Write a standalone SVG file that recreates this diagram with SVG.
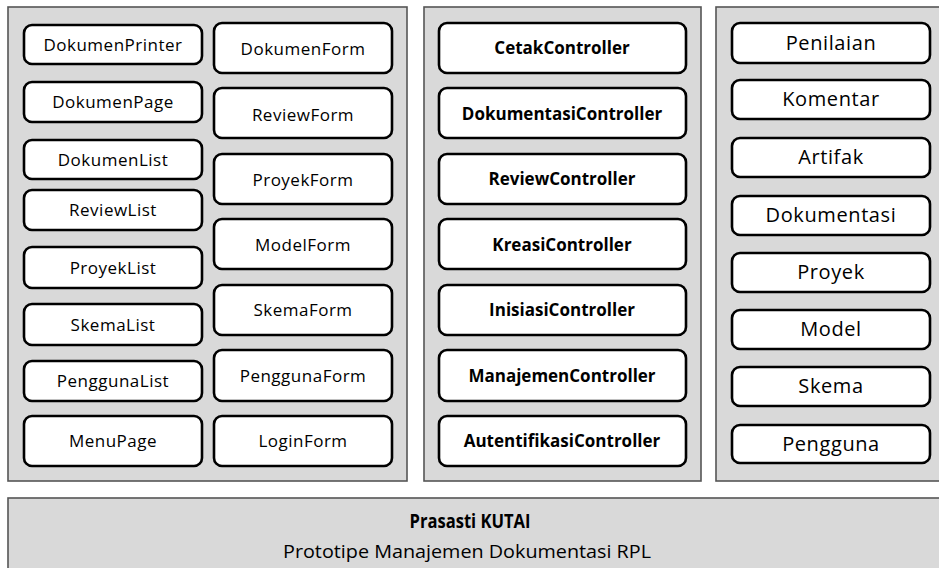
<svg xmlns="http://www.w3.org/2000/svg" width="939" height="568" viewBox="0 0 939 568">
<style>
.panel{fill:#d9d9d9;stroke:#555;stroke-width:1.6}
.box{fill:#fff;stroke:#000;stroke-width:2.6}
.t{font-family:"Open Sans","Liberation Sans",sans-serif;font-size:17px;fill:#000;text-anchor:middle;letter-spacing:0.5px}
.b{font-family:"Open Sans","Liberation Sans",sans-serif;font-size:17px;font-weight:bold;fill:#000;text-anchor:middle}
.m{font-family:"Open Sans","Liberation Sans",sans-serif;font-size:20px;fill:#000;text-anchor:middle;letter-spacing:0.6px}
</style>
<rect width="939" height="568" fill="#fff"/>
<g id="panel-view"><rect class="panel" x="8" y="7" width="399" height="474"/></g>
<g id="panel-controller"><rect class="panel" x="424" y="7" width="277" height="474"/></g>
<g id="panel-model"><rect class="panel" x="716" y="7" width="240" height="474"/></g>
<g id="panel-base"><rect class="panel" x="8" y="498" width="950" height="90"/>
<text x="470" y="528" font-family="Open Sans, Liberation Sans, sans-serif" font-size="19" font-weight="bold" fill="#000" text-anchor="middle" textLength="121" lengthAdjust="spacingAndGlyphs">Prasasti KUTAI</text>
<text x="467" y="558" font-family="Open Sans, Liberation Sans, sans-serif" font-size="19" fill="#000" text-anchor="middle" textLength="368" lengthAdjust="spacingAndGlyphs">Prototipe Manajemen Dokumentasi RPL</text>
</g>
<g id="DokumenPrinter"><rect class="box" x="24" y="25" width="178" height="39" rx="8"/><text class="t" x="113" y="51">DokumenPrinter</text></g>
<g id="DokumenPage"><rect class="box" x="24" y="82" width="178" height="40" rx="8"/><text class="t" x="113" y="108">DokumenPage</text></g>
<g id="DokumenList"><rect class="box" x="24" y="140" width="178" height="39" rx="8"/><text class="t" x="113" y="166">DokumenList</text></g>
<g id="ReviewList"><rect class="box" x="24" y="190" width="178" height="40" rx="8"/><text class="t" x="113" y="216">ReviewList</text></g>
<g id="ProyekList"><rect class="box" x="24" y="247" width="178" height="41" rx="8"/><text class="t" x="113" y="274">ProyekList</text></g>
<g id="SkemaList"><rect class="box" x="24" y="304" width="178" height="41" rx="8"/><text class="t" x="113" y="331">SkemaList</text></g>
<g id="PenggunaList"><rect class="box" x="24" y="361" width="178" height="40" rx="8"/><text class="t" x="113" y="387">PenggunaList</text></g>
<g id="MenuPage"><rect class="box" x="24" y="416" width="178" height="50" rx="8"/><text class="t" x="113" y="447">MenuPage</text></g>
<g id="DokumenForm"><rect class="box" x="214" y="23" width="178" height="50" rx="8"/><text class="t" x="303" y="55">DokumenForm</text></g>
<g id="ReviewForm"><rect class="box" x="214" y="88" width="178" height="50" rx="8"/><text class="t" x="303" y="121">ReviewForm</text></g>
<g id="ProyekForm"><rect class="box" x="214" y="154" width="178" height="50" rx="8"/><text class="t" x="303" y="186">ProyekForm</text></g>
<g id="ModelForm"><rect class="box" x="214" y="219" width="178" height="50" rx="8"/><text class="t" x="303" y="251">ModelForm</text></g>
<g id="SkemaForm"><rect class="box" x="214" y="285" width="178" height="50" rx="8"/><text class="t" x="303" y="316">SkemaForm</text></g>
<g id="PenggunaForm"><rect class="box" x="214" y="350" width="178" height="51" rx="8"/><text class="t" x="303" y="382">PenggunaForm</text></g>
<g id="LoginForm"><rect class="box" x="214" y="416" width="178" height="50" rx="8"/><text class="t" x="303" y="447">LoginForm</text></g>
<g id="CetakController"><rect class="box" x="439" y="23" width="247" height="50" rx="8"/><text class="b" x="562" y="54">CetakController</text></g>
<g id="DokumentasiController"><rect class="box" x="439" y="88" width="247" height="50" rx="8"/><text class="b" x="562" y="120">DokumentasiController</text></g>
<g id="ReviewController"><rect class="box" x="439" y="154" width="247" height="50" rx="8"/><text class="b" x="562" y="185">ReviewController</text></g>
<g id="KreasiController"><rect class="box" x="439" y="219" width="247" height="50" rx="8"/><text class="b" x="562" y="251">KreasiController</text></g>
<g id="InisiasiController"><rect class="box" x="439" y="285" width="247" height="50" rx="8"/><text class="b" x="562" y="316">InisiasiController</text></g>
<g id="ManajemenController"><rect class="box" x="439" y="350" width="247" height="51" rx="8"/><text class="b" x="562" y="382">ManajemenController</text></g>
<g id="AutentifikasiController"><rect class="box" x="439" y="416" width="247" height="50" rx="8"/><text class="b" x="562" y="447">AutentifikasiController</text></g>
<g id="Penilaian"><rect class="box" x="732" y="23" width="198" height="40" rx="8"/><text class="m" x="831" y="50">Penilaian</text></g>
<g id="Komentar"><rect class="box" x="732" y="80" width="198" height="39" rx="8"/><text class="m" x="831" y="106">Komentar</text></g>
<g id="Artifak"><rect class="box" x="732" y="138" width="198" height="39" rx="8"/><text class="m" x="831" y="164">Artifak</text></g>
<g id="Dokumentasi"><rect class="box" x="732" y="196" width="198" height="39" rx="8"/><text class="m" x="831" y="222">Dokumentasi</text></g>
<g id="Proyek"><rect class="box" x="732" y="253" width="198" height="39" rx="8"/><text class="m" x="831" y="279">Proyek</text></g>
<g id="Model"><rect class="box" x="732" y="310" width="198" height="39" rx="8"/><text class="m" x="831" y="336">Model</text></g>
<g id="Skema"><rect class="box" x="732" y="367" width="198" height="39" rx="8"/><text class="m" x="831" y="393">Skema</text></g>
<g id="Pengguna"><rect class="box" x="732" y="425" width="198" height="38" rx="8"/><text class="m" x="831" y="451">Pengguna</text></g>
</svg>
